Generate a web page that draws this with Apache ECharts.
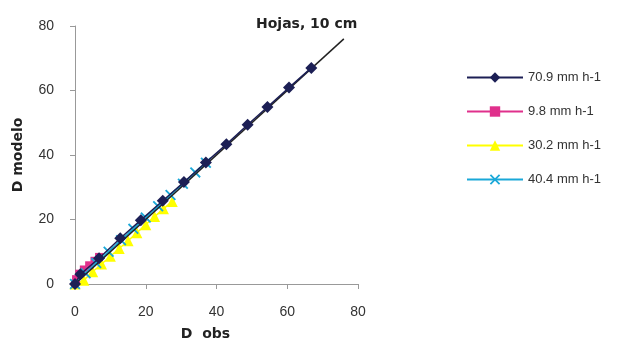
<!DOCTYPE html>
<html><head><meta charset="utf-8">
<script src="https://cdn.jsdelivr.net/npm/echarts@6/dist/echarts.min.js"></script>
<style>html,body{margin:0;padding:0;background:#fff}#c{width:628px;height:342px}</style>
</head><body><div id="c"></div>
<script>
var titleText = 'Hojas, 10 cm';
var xName = 'D  obs';
var yName = 'D modelo';
var axisTicks = [0, 20, 40, 60, 80];
var names = ['70.9 mm h-1', '9.8 mm h-1', '30.2 mm h-1', '40.4 mm h-1'];
var s709 = [[0,0],[1.5,3],[6.8,8],[12.8,14.2],[18.6,19.8],[24.8,25.8],[30.8,31.6],[37,37.7],[42.8,43.3],[48.8,49.4],[54.4,54.9],[60.5,60.9],[66.8,67]];
var s98 = [[0,0],[0.3,1.5],[1.2,3.2],[2.5,4.5],[4,5.8],[5.5,7.2],[6.8,8.4]];
var s302 = [[0,0],[2.5,1.2],[5,3.8],[7.5,6.2],[10,8.6],[12.5,11],[15,13.4],[17.5,15.9],[20,18.4],[22.5,20.9],[25,23.3],[27.5,25.6]];
var s404 = [[0,0],[3,3.3],[6,6.5],[9.5,10],[13,13.6],[16.5,17.1],[20,20.6],[23.5,24.1],[27,27.6],[30.5,31.1],[34,34.6],[37,37.6]];
var oneToOne = [[0,0],[76,76]];

var xPath = 'path://M0,1.2L1.2,0L5,3.8L8.8,0L10,1.2L6.2,5L10,8.8L8.8,10L5,6.2L1.2,10L0,8.8L3.8,5Z';
var chart = echarts.init(document.getElementById('c'));
var lbl = {color:'#333', fontFamily:'Liberation Sans, Arial, sans-serif', fontSize:14};
var boldName = {fontFamily:'DejaVu Sans', fontWeight:'bold', fontSize:14, color:'#222'};
chart.setOption({
  animation:false,
  title:{text:titleText, left:251, top:12, textStyle:{fontFamily:'DejaVu Sans', fontWeight:'bold', fontSize:14, color:'#222'}},
  grid:{left:75, right:270, top:26, bottom:58, containLabel:false, outerBoundsMode:'none'},
  xAxis:{type:'value', min:0, max:80, interval:20, name:xName, nameLocation:'middle', nameGap:43,
    nameTextStyle:Object.assign({padding:[0,22,0,0]}, boldName),
    axisLine:{lineStyle:{color:'#999'}}, axisTick:{show:true, length:5, lineStyle:{color:'#999'}},
    splitLine:{show:false}, axisLabel:Object.assign({margin:21}, lbl)},
  yAxis:{type:'value', min:0, max:80, interval:20, name:yName, nameLocation:'middle', nameGap:50,
    nameTextStyle:boldName,
    axisLine:{show:true, lineStyle:{color:'#999'}}, axisTick:{show:true, length:5, lineStyle:{color:'#999'}},
    splitLine:{show:false}, axisLabel:Object.assign({margin:21}, lbl)},
  legend:{orient:'vertical', left:461, top:66, itemGap:21, itemWidth:56, itemHeight:13,
    data:names, textStyle:{color:'#333', fontFamily:'Liberation Sans, Arial, sans-serif', fontSize:13}},
  series:[
    {name:'1:1', type:'line', data:oneToOne, symbol:'none', lineStyle:{color:'#222', width:1.5}, z:5},
    {name:names[2], type:'line', data:s302, symbol:'triangle', symbolSize:11, itemStyle:{color:'#ffff00'}, lineStyle:{color:'#ffff00', width:1.5}, z:2},
    {name:names[1], type:'line', data:s98, symbol:'rect', symbolSize:8, itemStyle:{color:'#e0308c'}, lineStyle:{color:'#e0308c', width:1.5}, z:3},
    {name:names[0], type:'line', data:s709, symbol:'diamond', symbolSize:12, itemStyle:{color:'#1c1f55'}, lineStyle:{color:'#1c1f55', width:1.5}, z:6},
    {name:names[3], type:'line', data:s404, symbol:xPath, symbolSize:11, itemStyle:{color:'#1aa8d8'}, lineStyle:{color:'#1aa8d8', width:1.5}, z:4}
  ]
});
</script></body></html>
